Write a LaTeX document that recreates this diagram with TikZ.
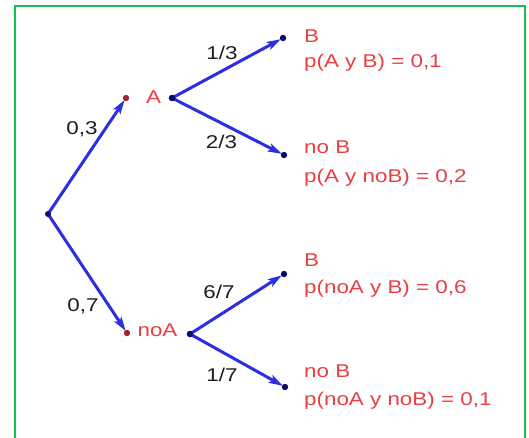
\documentclass[tikz,border=0pt]{standalone}
\usepackage{fontspec}
\usepackage{graphicx}
\setmainfont{Liberation Sans}
\usetikzlibrary{arrows.meta}
\definecolor{frame}{RGB}{20,190,80}
\definecolor{txtred}{RGB}{232,62,68}
\definecolor{txtblack}{RGB}{30,30,30}
\definecolor{arrowblue}{RGB}{45,45,228}
\definecolor{dotblue}{RGB}{10,10,110}
\definecolor{dotred}{RGB}{165,35,45}
\newcommand{\mywiden}[1]{\scalebox{1.21}[1]{#1}}
\begin{document}
\begin{tikzpicture}[x=1pt,y=-1pt,
  branch/.style={draw=arrowblue,line width=3pt,-{Stealth[length=14pt,width=8.5pt,inset=3pt]},shorten >=2.5pt},
  prob/.style={text=txtblack,font=\fontsize{18.5}{22}\selectfont,inner sep=0pt,anchor=base},
  event/.style={text=txtred,font=\fontsize{18.5}{22}\selectfont,inner sep=0pt,anchor=base},
  result/.style={text=txtred,font=\fontsize{18.5}{22}\selectfont,inner sep=0pt,anchor=base west},
  bdot/.style={fill=dotblue},
  rdot/.style={fill=dotred}]
\useasboundingbox (0,0) rectangle (529,437);
\fill[white] (0,0) rectangle (529,437);
\draw[frame,line width=2.2pt] (15,445) -- (15,6) -- (525,6) -- (525,445);

% points
\coordinate (root) at (48,214);
\coordinate (Ad) at (126,98);
\coordinate (As) at (172,98);
\coordinate (nAd) at (127,333);
\coordinate (nAs) at (190,334);
\coordinate (AB) at (283,38);
\coordinate (AnB) at (284,155);
\coordinate (nAB) at (284,274);
\coordinate (nAnB) at (285,387);

% branches
\draw[branch] (root) -- (Ad);
\draw[branch] (root) -- (nAd);
\draw[branch] (As) -- (AB);
\draw[branch] (As) -- (AnB);
\draw[branch] (nAs) -- (nAB);
\draw[branch] (nAs) -- (nAnB);

% dots
\fill[bdot] (root) circle (3pt);
\fill[rdot] (Ad) circle (3.2pt);
\fill[rdot] (nAd) circle (3.2pt);
\fill[bdot] (As) circle (3.3pt);
\fill[bdot] (nAs) circle (3.3pt);
\fill[bdot] (AB) circle (3.2pt);
\fill[bdot] (AnB) circle (3.2pt);
\fill[bdot] (nAB) circle (3.2pt);
\fill[bdot] (nAnB) circle (3.2pt);

% event labels
\node[event] (lA) at (153.5,103) {\mywiden{A}};
\node[event] (lnA) at (157.5,336) {\mywiden{noA}};

% probabilities
\node[prob] (p03) at (82,134) {\mywiden{0,3}};
\node[prob] (p07) at (83,311.5) {\mywiden{0,7}};
\node[prob] (p13) at (222,59.5) {\mywiden{1/3}};
\node[prob] (p23) at (221.5,148.5) {\mywiden{2/3}};
\node[prob] (p67) at (219,298) {\mywiden{6/7}};
\node[prob] (p17) at (222,381.5) {\mywiden{1/7}};

% results
\node[result] (r1) at (304,42) {\mywiden{B}};
\node[result] (r1p) at (304,67.5) {\mywiden{p(A y B) = 0,1}};
\node[result] (r2) at (304,153) {\mywiden{no B}};
\node[result] (r2p) at (304,182) {\mywiden{p(A y noB) = 0,2}};
\node[result] (r3) at (304,266) {\mywiden{B}};
\node[result] (r3p) at (304,293.5) {\mywiden{p(noA y B) = 0,6}};
\node[result] (r4) at (304,377) {\mywiden{no B}};
\node[result] (r4p) at (304,405.5) {\mywiden{p(noA y noB) = 0,1}};
\end{tikzpicture}
\end{document}
